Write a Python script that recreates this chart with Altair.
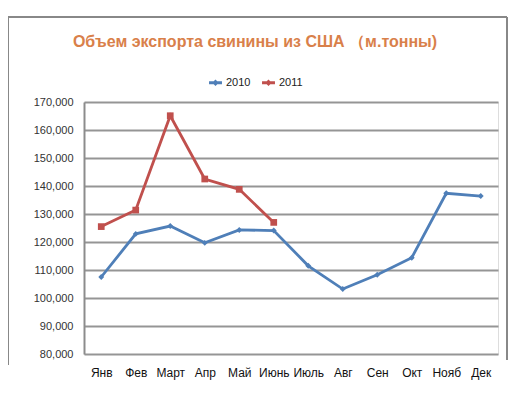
import altair as alt
import pandas as pd

months = ["Янв", "Фев", "Март", "Апр", "Май", "Июнь", "Июль", "Авг", "Сен", "Окт", "Нояб", "Дек"]
v2010 = [107500, 122900, 125700, 119700, 124300, 124100, 111500, 103200, 108300, 114400, 137400, 136400]
v2011 = [125500, 131400, 165100, 142500, 138800, 127000]
series = ["2010", "2011"]
colors = ["#4F7FB8", "#C0504D"]
shapes = ["diamond", "square"]
y_ticks = [80000, 90000, 100000, 110000, 120000, 130000, 140000, 150000, 160000, 170000]

rows = [{"month": m, "value": v, "series": "2010"} for m, v in zip(months, v2010)]
rows += [{"month": m, "value": v, "series": "2011"} for m, v in zip(months, v2011)]
df = pd.DataFrame(rows)

W, H = 414, 252
font = "Liberation Sans"

x = alt.X("month:N", sort=months, title=None,
          scale=alt.Scale(paddingInner=0, paddingOuter=0),
          axis=alt.Axis(labelAngle=0, ticks=False, domain=False, grid=False,
                        labelFontSize=12, labelColor="#111111", labelFont=font,
                        labelPadding=13))
y = alt.Y("value:Q", title=None,
          scale=alt.Scale(domain=[80000, 170000], nice=False, zero=False),
          axis=alt.Axis(values=y_ticks, format=",.0f", ticks=False, domain=True,
                        domainColor="#8C8C8C", domainWidth=2,
                        gridColor="#959595", gridWidth=2,
                        labelFontSize=11, labelColor="#333333", labelFont=font,
                        labelPadding=11))
color = alt.Color("series:N", scale=alt.Scale(domain=series, range=colors),
                  legend=alt.Legend(title=None, orient="none", direction="horizontal",
                                    legendX=125, legendY=-26,
                                    symbolType="M-1,-0.08L1,-0.08L1,0.08L-1,0.08Z M0,-0.35L0.35,0L0,0.35L-0.35,0Z",
                                    symbolSize=120, symbolStrokeWidth=2,
                                    labelFontSize=11, labelFont=font, labelColor="#222222",
                                    columnPadding=8))

lines = alt.Chart(df).mark_line(strokeWidth=2.8).encode(x=x, y=y, color=color)
pts = []
for s, c, sh in zip(series, colors, shapes):
    pts.append(
        alt.Chart(df).transform_filter(alt.datum.series == s)
        .mark_point(filled=True, size=45 if sh == "square" else 35, opacity=1, shape=sh, color=c)
        .encode(x=x, y=y)
    )

border_style = dict(color="#888888", strokeWidth=2)
top_b = alt.Chart().mark_rule(**border_style).encode(x=alt.value(-76), x2=alt.value(423), y=alt.value(-85))
left_b = alt.Chart().mark_rule(**border_style).encode(x=alt.value(-76), y=alt.value(-85), y2=alt.value(263))
right_b = alt.Chart().mark_rule(**border_style).encode(x=alt.value(423), y=alt.value(-85), y2=alt.value(258))

chart = alt.layer(top_b, left_b, right_b, lines, *pts).properties(
    width=W, height=H,
    title=alt.TitleParams("Объем экспорта свинины из США （м.тонны)", fontSize=16, font=font,
                          fontWeight="bold", color="#D9804A", anchor="middle", dx=-36,
                          offset=-34),
    autosize=alt.AutoSizeParams(type="none"),
    padding={"left": 76, "top": 94, "right": 17, "bottom": 35},
).configure_view(stroke=None).configure(background="white")

chart.save("out.html", embed_options={"renderer": "svg", "actions": False})
